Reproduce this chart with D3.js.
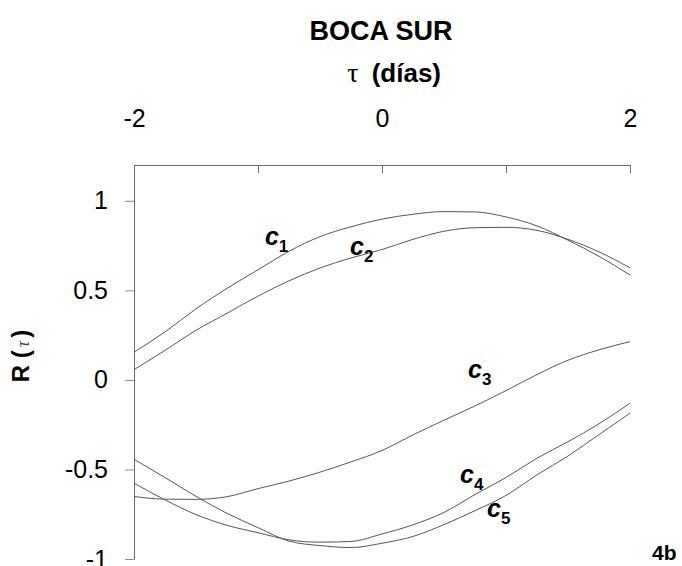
<!DOCTYPE html>
<html>
<head>
<meta charset="utf-8">
<script src="https://cdn.jsdelivr.net/npm/d3@7"></script>
<style>
  html, body { margin: 0; padding: 0; background: #fff; }
  svg { display: block; font-family: "Liberation Sans", Arial, sans-serif; }
</style>
</head>
<body>
<svg id="chart" width="682" height="566"></svg>
<script>
// Lag in days (tau) at which the cross-correlation is sampled
const lags = [-2, -1.75, -1.5, -1.25, -1, -0.75, -0.5, -0.25, 0, 0.25, 0.5, 0.75, 1, 1.25, 1.5, 1.75, 2];

// Correlation R(tau) for each component
const c1 = [0.155, 0.268, 0.397, 0.511, 0.615, 0.718, 0.800, 0.855, 0.898, 0.925, 0.940, 0.938, 0.910, 0.860, 0.780, 0.690, 0.586];
const c2 = [0.057, 0.165, 0.277, 0.372, 0.468, 0.553, 0.625, 0.681, 0.728, 0.785, 0.830, 0.850, 0.852, 0.835, 0.785, 0.715, 0.626];
const c3 = [-0.651, -0.666, -0.667, -0.652, -0.607, -0.565, -0.515, -0.458, -0.394, -0.307, -0.225, -0.145, -0.060, 0.030, 0.110, 0.168, 0.214];
const c4 = [-0.577, -0.670, -0.752, -0.812, -0.853, -0.893, -0.906, -0.902, -0.860, -0.809, -0.740, -0.640, -0.545, -0.437, -0.345, -0.245, -0.130];
const c5 = [-0.443, -0.545, -0.650, -0.745, -0.825, -0.900, -0.925, -0.936, -0.912, -0.874, -0.808, -0.730, -0.645, -0.530, -0.425, -0.305, -0.186];

const seriesNames = ["1", "2", "3", "4", "5"];
const seriesValues = [c1, c2, c3, c4, c5];

// Axis ticks
const xTicks = [-2, -1, 0, 1, 2];
const xTickLabels = ["-2", "", "0", "", "2"];
const yTicks = [-1, -0.5, 0, 0.5, 1];
const yTickLabels = ["-1", "-0.5", "0", "0.5", "1"];

const svg = d3.select("#chart");

const x = d3.scaleLinear().domain([-2, 2]).range([134, 630]);
const y = d3.scaleLinear().domain([-1, 1.2]).range([559, 165]);

const axisColor = "#6b6b6b";
const lineColor = "#555";

// Top axis: ticks point into the plot, labels well above the frame line
const xAxis = d3.axisTop(x)
  .tickValues(xTicks)
  .tickFormat((d, i) => xTickLabels[i])
  .tickSizeInner(-8)
  .tickSizeOuter(0)
  .tickPadding(38);

const gx = svg.append("g")
  .attr("transform", `translate(0,${y(1.2)})`)
  .call(xAxis);
gx.select(".domain").attr("stroke", axisColor);
gx.selectAll(".tick line").attr("stroke", axisColor);
gx.selectAll(".tick text")
  .attr("fill", "#000")
  .style("font-size", "25px")
  .style("font-family", "'Liberation Sans', Arial, sans-serif");

// Left axis
const yAxis = d3.axisLeft(y)
  .tickValues(yTicks)
  .tickFormat((d, i) => yTickLabels[i])
  .tickSizeInner(9)
  .tickSizeOuter(0)
  .tickPadding(17);

const gy = svg.append("g")
  .attr("transform", `translate(${x(-2)},0)`)
  .call(yAxis);
gy.select(".domain").attr("stroke", axisColor);
gy.selectAll(".tick line").attr("stroke", "#8a8a8a");
gy.selectAll(".tick text")
  .attr("fill", "#000")
  .style("font-size", "25px")
  .style("font-family", "'Liberation Sans', Arial, sans-serif");

// Correlation curves
const line = d3.line()
  .x((d, i) => x(lags[i]))
  .y(d => y(d))
  .curve(d3.curveMonotoneX);

svg.append("g")
  .selectAll("path")
  .data(seriesValues)
  .join("path")
  .attr("d", line)
  .attr("fill", "none")
  .attr("stroke", lineColor)
  .attr("stroke-width", 1);

// Curve labels c1..c5, anchored in data space
const labelAnchors = [[-0.944, 0.753], [-0.258, 0.698], [0.694, 0.011], [0.629, -0.575], [0.847, -0.765]];
seriesNames.forEach((name, i) => {
  const [lt, lv] = labelAnchors[i];
  const t = svg.append("text")
    .attr("x", x(lt))
    .attr("y", y(lv))
    .style("font-family", "'Liberation Sans', Arial, sans-serif")
    .style("font-weight", "bold")
    .attr("fill", "#000");
  t.append("tspan")
    .style("font-size", "25px")
    .style("font-style", "italic")
    .text("c");
  t.append("tspan")
    .attr("dy", 7)
    .style("font-size", "17px")
    .text(name);
});

// Titles
svg.append("text")
  .attr("x", 381)
  .attr("y", 40)
  .attr("text-anchor", "middle")
  .style("font-size", "27px")
  .style("font-weight", "bold")
  .attr("fill", "#000")
  .text("BOCA SUR");

svg.append("text")
  .attr("x", 353)
  .attr("y", 82)
  .attr("text-anchor", "middle")
  .attr("fill", "#000")
  .style("font-family", "'Liberation Serif', 'Times New Roman', serif")
  .style("font-size", "28px")
  .text("τ");

svg.append("text")
  .attr("x", 441)
  .attr("y", 82)
  .attr("text-anchor", "end")
  .attr("fill", "#000")
  .style("font-size", "26px")
  .style("font-weight", "bold")
  .text("(días)");

// Y axis title
const yl = svg.append("text")
  .attr("transform", "translate(29,356) rotate(-90)")
  .attr("text-anchor", "middle")
  .attr("fill", "#000");
yl.append("tspan")
  .style("font-size", "24px")
  .style("font-weight", "bold")
  .text("R (");
yl.append("tspan")
  .attr("dx", 3)
  .style("font-family", "'Liberation Serif', 'Times New Roman', serif")
  .style("font-style", "italic")
  .style("font-size", "18px")
  .attr("fill", "#444")
  .text("τ");
yl.append("tspan")
  .attr("dx", 3)
  .style("font-size", "24px")
  .style("font-weight", "bold")
  .text(")");

// Panel tag
svg.append("text")
  .attr("x", 652)
  .attr("y", 560)
  .style("font-size", "21px")
  .style("font-weight", "bold")
  .attr("fill", "#000")
  .text("4b");
</script>
</body>
</html>
